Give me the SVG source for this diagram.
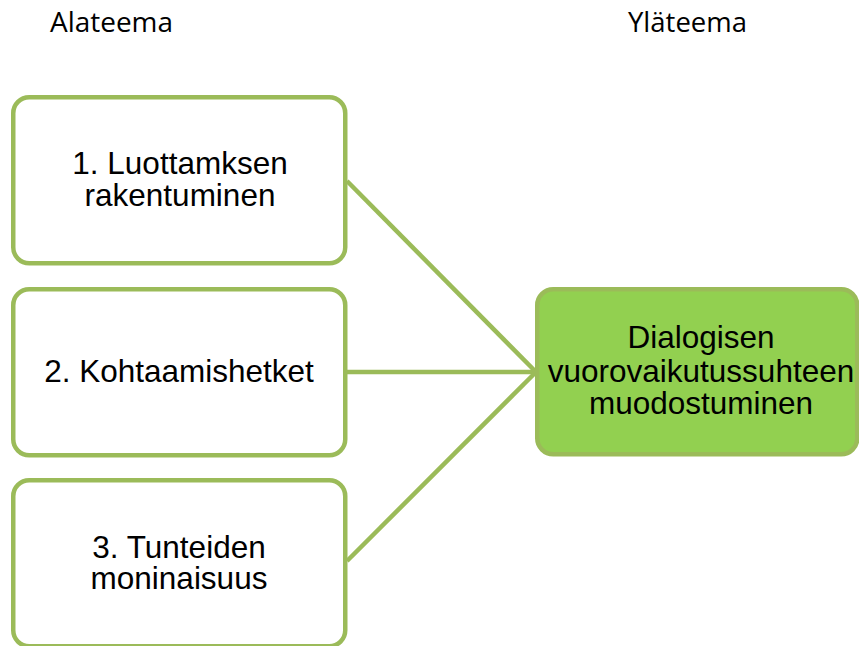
<svg xmlns="http://www.w3.org/2000/svg" width="859" height="646" viewBox="0 0 859 646">
  <style>
    .box { fill: #ffffff; stroke: #9BBB59; stroke-width: 4.5; }
    .main { fill: #92D050; stroke: #9BBB59; stroke-width: 4.5; }
    .link { stroke: #9BBB59; stroke-width: 4.5; fill: none; }
    .lbl { font-family: "Liberation Sans", Arial, sans-serif; font-size: 31.5px; fill: #000; text-anchor: middle; }
    .hdr { font-family: "Open Sans", "Noto Sans", sans-serif; font-size: 26.5px; fill: #000; }
  </style>
  <rect width="859" height="646" fill="#ffffff"/>

  <g id="headers">
    <text class="hdr" x="50" y="32" textLength="123" lengthAdjust="spacingAndGlyphs">Alateema</text>
    <text class="hdr" x="628" y="32" textLength="119" lengthAdjust="spacingAndGlyphs">Yläteema</text>
  </g>

  <g id="connectors">
    <line class="link" x1="347" y1="181" x2="536" y2="372"/>
    <line class="link" x1="347" y1="372" x2="536" y2="372"/>
    <line class="link" x1="347" y1="561" x2="536" y2="372"/>
  </g>

  <g id="node1">
    <rect class="box" x="13.25" y="97.25" width="332" height="166" rx="16"/>
    <text class="lbl" x="180" y="174">1. Luottamksen</text>
    <text class="lbl" x="180" y="206">rakentuminen</text>
  </g>

  <g id="node2">
    <rect class="box" x="13.25" y="289.25" width="332" height="166" rx="16"/>
    <text class="lbl" x="179" y="382">2. Kohtaamishetket</text>
  </g>

  <g id="node3">
    <rect class="box" x="13.25" y="480.25" width="332" height="166" rx="16"/>
    <text class="lbl" x="179" y="558">3. Tunteiden</text>
    <text class="lbl" x="179" y="589">moninaisuus</text>
  </g>

  <g id="node4">
    <rect class="main" x="537.25" y="289.25" width="320" height="165" rx="16"/>
    <text class="lbl" x="701" y="348">Dialogisen</text>
    <text class="lbl" x="701" y="382">vuorovaikutussuhteen</text>
    <text class="lbl" x="701" y="414">muodostuminen</text>
  </g>
</svg>
